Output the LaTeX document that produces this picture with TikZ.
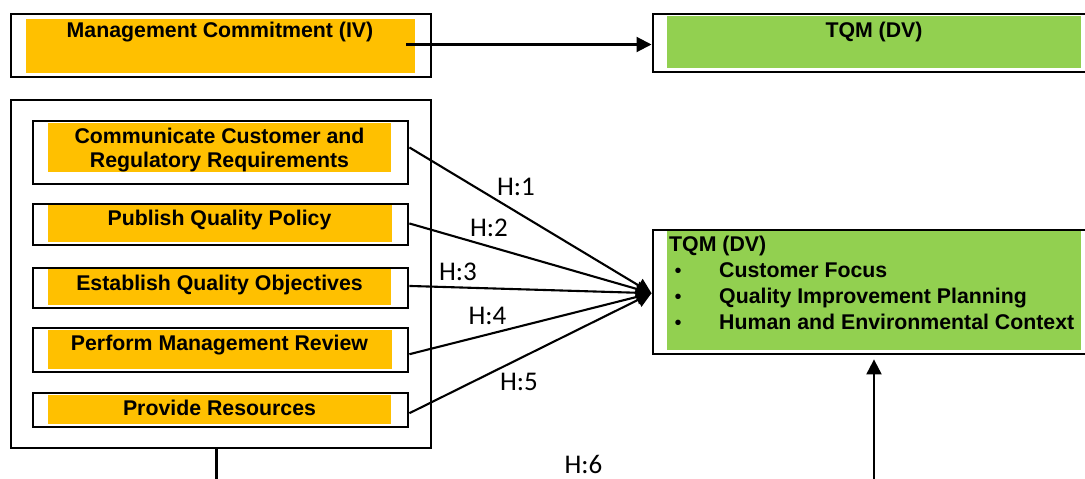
\documentclass[tikz,border=0pt]{standalone}
\usepackage{fontspec}
\setmainfont{Liberation Sans}
\newfontfamily\hfont{Carlito}
\usetikzlibrary{arrows.meta,calc}
\definecolor{boxorange}{HTML}{FFC000}
\definecolor{boxgreen}{HTML}{92D050}

\begin{document}
\begin{tikzpicture}[x=1pt,y=-1pt,
  frame/.style={draw=black, line width=2.4pt, fill=white, rectangle,
    inner sep=0pt, anchor=north west},
  boxtext/.style={anchor=base, inner sep=0pt,
    font=\bfseries\fontsize{21.3}{24}\selectfont},
  listtext/.style={anchor=base west, inner sep=0pt,
    font=\bfseries\fontsize{21.3}{24}\selectfont},
  bullet/.style={anchor=base, inner sep=0pt,
    font=\fontsize{20}{24}\selectfont},
  hlabel/.style={anchor=base, inner sep=0pt,
    font=\hfont\fontsize{27}{30}\selectfont},
  conn/.style={draw=black, line width=2.1pt},
  arrowed/.style={conn, -{Triangle[length=15pt,width=15pt]}}]

\useasboundingbox (0,0) rectangle (1085,479);
\clip (0,0) rectangle (1085,479);

% frames
\node[frame, minimum width=420pt, minimum height=63pt] (mc) at (10,13) {};
\node[frame, minimum width=450pt, minimum height=58pt] (tqmtop) at (651.5,13) {};
\node[frame, minimum width=420pt, minimum height=348pt] (big) at (10,99) {};
\node[frame, minimum width=375.5pt, minimum height=62.5pt] (c1) at (31.5,120) {};
\node[frame, minimum width=375.5pt, minimum height=41.5pt] (c2) at (31.5,202.5) {};
\node[frame, minimum width=375.5pt, minimum height=40.5pt] (c3) at (31.5,266.5) {};
\node[frame, minimum width=375.5pt, minimum height=44pt] (c4) at (31.5,327) {};
\node[frame, minimum width=375.5pt, minimum height=34pt] (c5) at (31.5,392) {};
\node[frame, minimum width=446pt, minimum height=124pt] (tqm) at (651.5,228.5) {};

% coloured fields inside the frames
\fill[boxorange] (26,18.5) rectangle (415,72.5);
\fill[boxgreen] (666.5,15.5) rectangle (1081,68);
\fill[boxorange] (48,123) rectangle (391,172);
\fill[boxorange] (48,205) rectangle (392,242);
\fill[boxorange] (48,269) rectangle (391,305);
\fill[boxorange] (48,329.5) rectangle (392,369);
\fill[boxorange] (48,395) rectangle (391,424);
\fill[boxgreen] (666.5,231) rectangle (1081,350);

% texts
\node[boxtext] (mct) at (220,37.3) {Management Commitment (IV)};
\node[boxtext] (tqmtopt) at (874,37.3) {TQM (DV)};
\node[boxtext] (c1a) at (219.5,143) {Communicate Customer and};
\node[boxtext] (c1b) at (219.5,167) {Regulatory Requirements};
\node[boxtext] (c2t) at (219.5,225) {Publish Quality Policy};
\node[boxtext] (c3t) at (219.5,290) {Establish Quality Objectives};
\node[boxtext] (c4t) at (219.5,350) {Perform Management Review};
\node[boxtext] (c5t) at (219.5,415) {Provide Resources};

\node[listtext] (lt) at (669,251) {TQM (DV)};
\node[bullet] (b1) at (678,277) {\textbullet};
\node[bullet] (b2) at (678,303) {\textbullet};
\node[bullet] (b3) at (678,329) {\textbullet};
\node[listtext] (l1) at (719,277) {Customer Focus};
\node[listtext] (l2) at (719,303) {Quality Improvement Planning};
\node[listtext] (l3) at (719,329) {Human and Environmental Context};

% hypothesis labels
\node[hlabel] (h1) at (516,195) {H:1};
\node[hlabel] (h2) at (489,236.5) {H:2};
\node[hlabel] (h3) at (458,280) {H:3};
\node[hlabel] (h4) at (487.5,324) {H:4};
\node[hlabel] (h5) at (519,390) {H:5};
\node[hlabel] (h6) at (583.5,473) {H:6};

% connectors
\coordinate (mcout) at (406,44.5);
\draw[arrowed] (mcout) -- (mcout -| tqmtop.west);

\draw[arrowed] ([yshift=5pt]c1.east) -- ([yshift=-1.5pt]tqm.west);
\draw[arrowed] ([yshift=1pt]c2.east) -- ([yshift=-1.5pt]tqm.west);
\draw[arrowed] ([yshift=2pt]c3.east) -- ([yshift=-1.5pt]tqm.west);
\draw[arrowed] ([yshift=-4pt]c4.east) -- ([yshift=-1.5pt]tqm.west);
\draw[arrowed] ([yshift=-3pt]c5.east) -- ([yshift=-1.5pt]tqm.west);

\coordinate (dn) at (216.5,479);
\draw[conn] (dn |- big.south) -- (dn);

\coordinate (up) at (874,479);
\draw[arrowed] (up) -- ($(up |- tqm.south)+(0,4.5)$);

\end{tikzpicture}
\end{document}
